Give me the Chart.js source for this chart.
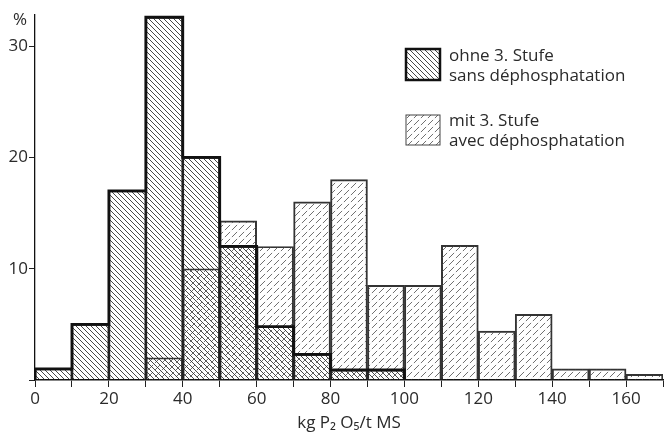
<!DOCTYPE html>
<html>
<head>
<meta charset="utf-8">
<script src="https://cdn.jsdelivr.net/npm/chart.js@4/dist/chart.umd.min.js"></script>
<style>
	body { margin: 0; background: #fff; }
	canvas { display: block; }
</style>
</head>
<body>
<canvas id="main_chart" width="665" height="435"></canvas>
<script>
// bins of 10 kg P2O5/t MS, values in %
const binStarts = [0, 10, 20, 30, 40, 50, 60, 70, 80, 90, 100, 110, 120, 130, 140, 150, 160];
const binWidth = 10;
const ohneValues = [1, 5, 17, 32.6, 20, 12, 4.8, 2.3, 0.9, 0.9, null, null, null, null, null, null, null];
const mitValues = [null, null, null, 2, 10, 14.3, 12, 16, 18, 8.5, 8.5, 12.1, 4.4, 5.9, 1, 1, 0.5];
const ohneLabel = ["ohne 3. Stufe", "sans déphosphatation"];
const mitLabel = ["mit 3. Stufe", "avec déphosphatation"];
const xTitle = "kg P\u2082 O\u2085/t MS";

const font = "'Open Sans', 'DejaVu Sans', sans-serif";
const ohnePattern = makeOhnePattern();
const mitPattern = makeMitPattern();

const legendPlugin = {
	id: 'hatchLegend',
	afterDraw(chart) {
		const c = chart.ctx;
		c.save();
		// box 1
		c.fillStyle = ohnePattern;
		c.fillRect(406, 49, 34, 31);
		c.lineWidth = 2.5;
		c.strokeStyle = '#111';
		c.strokeRect(406, 49, 34, 31);
		// box 2
		c.fillStyle = mitPattern;
		c.fillRect(406, 115, 34, 30);
		c.lineWidth = 1;
		c.strokeStyle = '#444';
		c.strokeRect(406, 115, 34, 30);

		c.fillStyle = '#2a2a2a';
		c.font = '17px ' + font;
		c.textBaseline = 'middle';
		c.textAlign = 'left';
		c.fillText(ohneLabel[0], 449, 56);
		c.fillText(ohneLabel[1], 449, 76);
		c.fillText(mitLabel[0], 449, 121);
		c.fillText(mitLabel[1], 449, 141);

		// % unit on the y axis
		c.textAlign = 'center';
		c.fillText('%', 20, 20);
		c.restore();
	}
};

new Chart(document.getElementById('main_chart'), {
	type: 'bar',
	data: {
		datasets: [
			{
				type: 'line',
				data: stepPoints(ohneValues),
				stepped: true,
				borderColor: '#111',
				borderWidth: 2.8,
				pointRadius: 0,
				fill: false,
				order: 0,
			},
			{
				data: barPoints(ohneValues),
				backgroundColor: ohnePattern,
				borderColor: '#222',
				borderWidth: 1,
				grouped: false,
				barPercentage: 1,
				categoryPercentage: 1,
				order: 1,
			},
			{
				data: barPoints(mitValues),
				backgroundColor: mitPattern,
				borderColor: '#333',
				borderWidth: 1.3,
				grouped: false,
				barPercentage: 1,
				categoryPercentage: 1,
				order: 2,
			},
		],
	},
	options: {
		responsive: false,
		animation: false,
		layout: {
			padding: { top: 15, right: 2, left: 0, bottom: 0 },
		},
		plugins: {
			legend: { display: false },
			tooltip: { enabled: false },
		},
		scales: {
			x: {
				type: 'linear',
				offset: false,
				min: 0,
				max: 170,
				grid: {
					offset: false,
					drawOnChartArea: false,
					color: '#222',
					tickLength: 7,
				},
				border: { color: '#111', width: 1.6 },
				ticks: {
					stepSize: 10,
					padding: 2,
					color: '#2a2a2a',
					font: { size: 17, family: font },
					callback: (v) => v % 20 === 0 ? v : '',
					maxRotation: 0,
					autoSkip: false,
				},
				title: {
					display: true,
					text: xTitle,
					color: '#2a2a2a',
					font: { size: 17, family: font },
					padding: { top: 0, bottom: 2 },
				},
				afterFit: (scale) => { scale.height = 55; },
			},
			y: {
				min: 0,
				max: 32.8,
				grid: {
					drawOnChartArea: false,
					color: '#222',
					tickLength: 6,
				},
				border: { color: '#111', width: 1.3 },
				ticks: {
					stepSize: 10,
					includeBounds: false,
					padding: 1,
					color: '#2a2a2a',
					font: { size: 17, family: font },
					callback: (v) => v === 0 ? '' : v,
				},
				afterFit: (scale) => { scale.width = 35; },
			},
		},
	},
	plugins: [legendPlugin],
});

function barPoints(values) {
	const points = [];
	for (let i = 0; i < values.length; i++) {
		if (values[i] == null) continue;
		points.push({ x: binStarts[i] + binWidth / 2, y: values[i] });
	}
	return points;
}

// outline of the histogram: up at first bin, along the tops, down after last bin
function stepPoints(values) {
	const points = [];
	let last = -1;
	for (let i = 0; i < values.length; i++) {
		if (values[i] == null) continue;
		if (!points.length) points.push({ x: binStarts[i], y: 0 });
		points.push({ x: binStarts[i], y: values[i] });
		last = i;
	}
	points.push({ x: binStarts[last] + binWidth, y: 0 });
	return points;
}

function makeOhnePattern() {
	const size = 5;
	const cv = document.createElement('canvas');
	cv.width = size;
	cv.height = size;
	const c = cv.getContext('2d');
	c.strokeStyle = '#333';
	c.lineWidth = 0.9;
	c.beginPath();
	c.moveTo(-1, -1);
	c.lineTo(size + 1, size + 1);
	c.moveTo(-1, size - 1);
	c.lineTo(1, size + 1);
	c.moveTo(size - 1, -1);
	c.lineTo(size + 1, 1);
	c.stroke();
	return c.createPattern(cv, 'repeat');
}

function makeMitPattern() {
	const size = 7;
	const cv = document.createElement('canvas');
	cv.width = size;
	cv.height = size;
	const c = cv.getContext('2d');
	c.strokeStyle = '#555';
	c.lineWidth = 0.85;
	c.beginPath();
	c.moveTo(0.9, size - 0.9);
	c.lineTo(size - 0.9, 0.9);
	c.stroke();
	return c.createPattern(cv, 'repeat');
}
</script>
</body>
</html>
